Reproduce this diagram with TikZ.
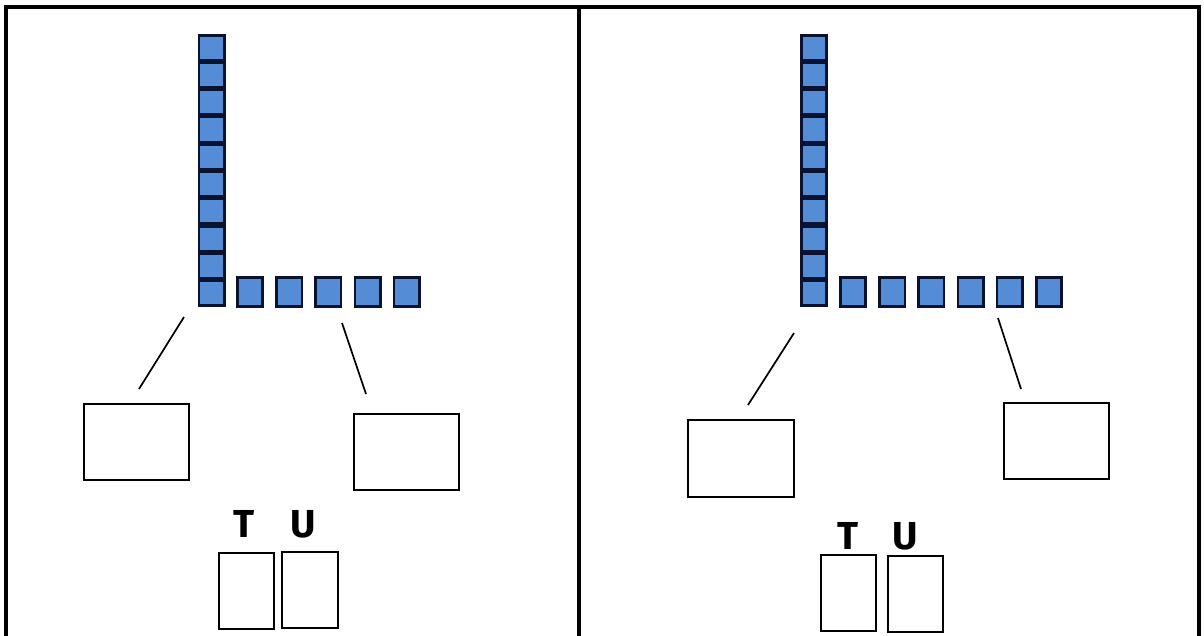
\documentclass[tikz,border=0pt]{standalone}
\usepackage{fontspec}
\newfontfamily\lblfont{Fira Sans}
\definecolor{cubefill}{RGB}{84,141,214}
\definecolor{cubeedge}{RGB}{10,18,48}
\tikzset{
  cube/.style={draw=cubeedge, fill=cubefill, line width=2.6pt, inner sep=0pt, outer sep=0pt},
  colcube/.style={cube, minimum width=25.4pt, minimum height=24.7pt},
  rowcube/.style={cube, minimum width=25.4pt, minimum height=28.4pt},
  answerbox/.style={draw=black, line width=1.9pt, inner sep=0pt, outer sep=0pt},
  pointer/.style={draw=black, line width=1.7pt},
  frame/.style={draw=black, line width=4pt},
  digit/.style={inner sep=0pt, font=\lblfont\bfseries\fontsize{39}{39}\selectfont}
}
\begin{document}
\begin{tikzpicture}[x=1pt,y=-1pt]
\useasboundingbox (0,0) rectangle (1204,636);
% frame
\draw[frame] (6,636) -- (6,7) -- (1199,7) -- (1199,636);
\draw[frame] (579,7) -- (579,636);

% ---------- left panel ----------
\foreach \i in {0,...,9}{
  \node[colcube] (L\i) at (211.5,{34+27.3*(\i+0.5)}) {};
}
\foreach \i/\xx in {1/250,2/289.2,3/328.4,4/367.6,5/406.8}{
  \node[rowcube] (LU\i) at (\xx,292) {};
}
\coordinate (la1) at (184,317);
\coordinate (la2) at (139,389);
\coordinate (lb1) at (342,323);
\coordinate (lb2) at (366,394);
\draw[pointer] (la1) -- (la2);
\draw[pointer] (lb1) -- (lb2);
\node[answerbox, minimum width=105pt, minimum height=76pt] (LBa) at (136.5,442) {};
\node[answerbox, minimum width=105pt, minimum height=76pt] (LBb) at (406.5,452) {};
\node[digit] (LT) at (244.5,524) {T};
\node[digit] (LUl) at (303,524) {U};
\node[answerbox, minimum width=55pt, minimum height=76pt] (LTb) at (246.5,591) {};
\node[answerbox, minimum width=56pt, minimum height=76pt] (LUb) at (310,590) {};

% ---------- right panel ----------
\foreach \i in {0,...,9}{
  \node[colcube] (R\i) at (814,{34+27.3*(\i+0.5)}) {};
}
\foreach \i/\xx in {1/853,2/892.2,3/931.4,4/970.6,5/1009.8,6/1049}{
  \node[rowcube] (RU\i) at (\xx,292) {};
}
\coordinate (ra1) at (794,333);
\coordinate (ra2) at (748,405);
\coordinate (rb1) at (998,318);
\coordinate (rb2) at (1021,389);
\draw[pointer] (ra1) -- (ra2);
\draw[pointer] (rb1) -- (rb2);
\node[answerbox, minimum width=106pt, minimum height=77pt] (RBa) at (741,458.5) {};
\node[answerbox, minimum width=105pt, minimum height=76pt] (RBb) at (1056.5,441) {};
\node[digit] (RT) at (848.5,536) {T};
\node[digit] (RUl) at (905,536) {U};
\node[answerbox, minimum width=55pt, minimum height=76pt] (RTb) at (848.5,593) {};
\node[answerbox, minimum width=55pt, minimum height=76pt] (RUb) at (915.5,594) {};
\end{tikzpicture}
\end{document}
